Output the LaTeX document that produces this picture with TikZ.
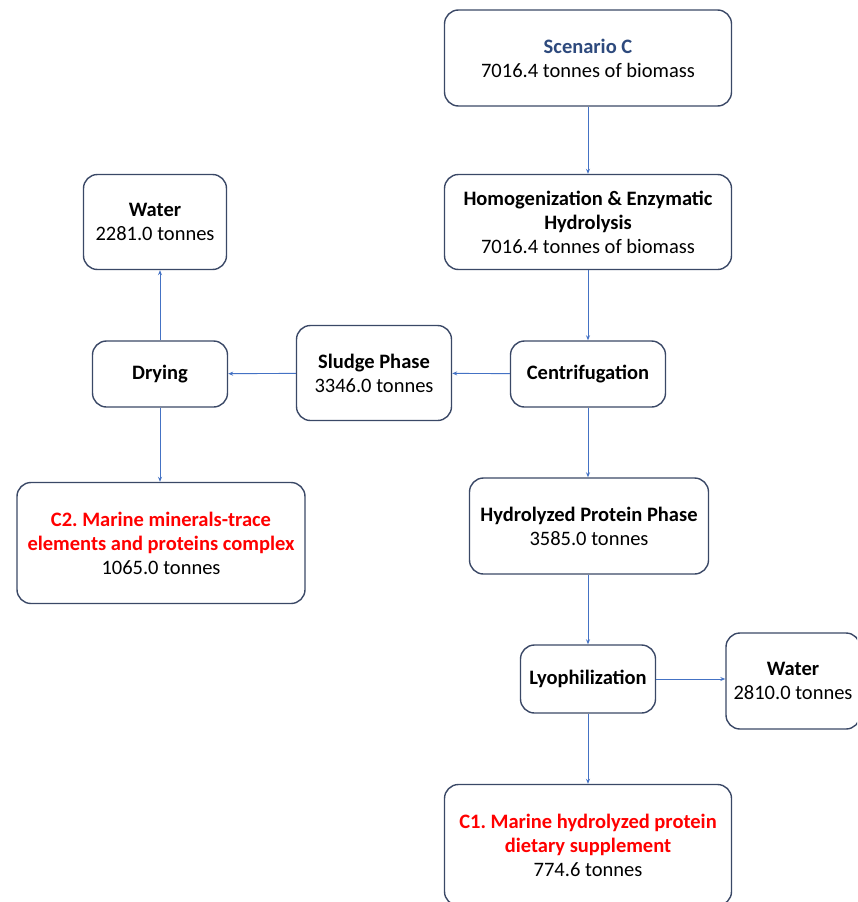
\documentclass[tikz,border=0pt]{standalone}
\usepackage{fontspec}
\setmainfont{Carlito}
\usetikzlibrary{arrows.meta}
\definecolor{boxline}{HTML}{3A4866}
\definecolor{flow}{HTML}{4472C4}
\definecolor{titleblue}{HTML}{2E4A7D}
\frenchspacing
\begin{document}
\begin{tikzpicture}[
  x = 1pt,
  y = -1pt,
  stage/.style = {
    shape = rectangle,
    draw = boxline,
    line width = 1.4pt,
    rounded corners = 14pt,
    align = center,
    font = \fontsize{20.5}{24}\selectfont,
    inner sep = 0pt
  },
  flowline/.style = {
    draw = flow,
    line width = 0.9pt,
    -{Stealth[length = 5pt, width = 4pt]}
  }
]
  \useasboundingbox (0, 0) rectangle (857, 902);
  \clip (0, 0) rectangle (857, 902);

  \node[stage, minimum width = 287pt, minimum height = 96pt] (scen) at (588, 58)
    {{\bfseries\color{titleblue}Scenario C}\\7016.4 tonnes of biomass};
  \node[stage, minimum width = 287pt, minimum height = 95pt] (homog) at (588, 222)
    {\textbf{Homogenization \& Enzymatic}\\\textbf{Hydrolysis}\\7016.4 tonnes of biomass};
  \node[stage, minimum width = 155pt, minimum height = 66pt] (centr) at (588, 374)
    {\textbf{Centrifugation}};
  \node[stage, minimum width = 155pt, minimum height = 95pt] (sludge) at (374, 373)
    {\textbf{Sludge Phase}\\3346.0 tonnes};
  \node[stage, minimum width = 135pt, minimum height = 66pt] (drying) at (160, 374)
    {\textbf{Drying}};
  \node[stage, minimum width = 143pt, minimum height = 95pt] (waterL) at (155, 222)
    {\textbf{Water}\\2281.0 tonnes};
  \node[stage, minimum width = 288pt, minimum height = 121pt] (ctwo) at (161, 543)
    {{\bfseries\color{red}C2. Marine minerals-trace}\\{\bfseries\color{red}elements and proteins complex}\\1065.0 tonnes};
  \node[stage, minimum width = 239pt, minimum height = 96pt] (hydro) at (589, 526)
    {\textbf{Hydrolyzed Protein Phase}\\3585.0 tonnes};
  \node[stage, minimum width = 135pt, minimum height = 68pt] (lyo) at (588, 679)
    {\textbf{Lyophilization}};
  \node[stage, minimum width = 134pt, minimum height = 96pt] (waterR) at (793, 681)
    {\textbf{Water}\\2810.0 tonnes};
  \node[stage, minimum width = 287pt, minimum height = 121pt] (cone) at (588, 845)
    {{\bfseries\color{red}C1. Marine hydrolyzed protein}\\{\bfseries\color{red}dietary supplement}\\774.6 tonnes};

  \draw[flowline] (scen) -- (homog);
  \draw[flowline] (homog) -- (centr);
  \draw[flowline] (centr) -- (sludge);
  \draw[flowline] (sludge) -- (drying);
  \draw[flowline] (drying.north) -- (drying.north |- waterL.south);
  \draw[flowline] (drying.south) -- (drying.south |- ctwo.north);
  \draw[flowline] (centr) -- (hydro.north -| centr);
  \draw[flowline] (hydro.south -| lyo) -- (lyo);
  \draw[flowline] (lyo) -- (waterR.west |- lyo);
  \draw[flowline] (lyo) -- (cone);
\end{tikzpicture}
\end{document}
